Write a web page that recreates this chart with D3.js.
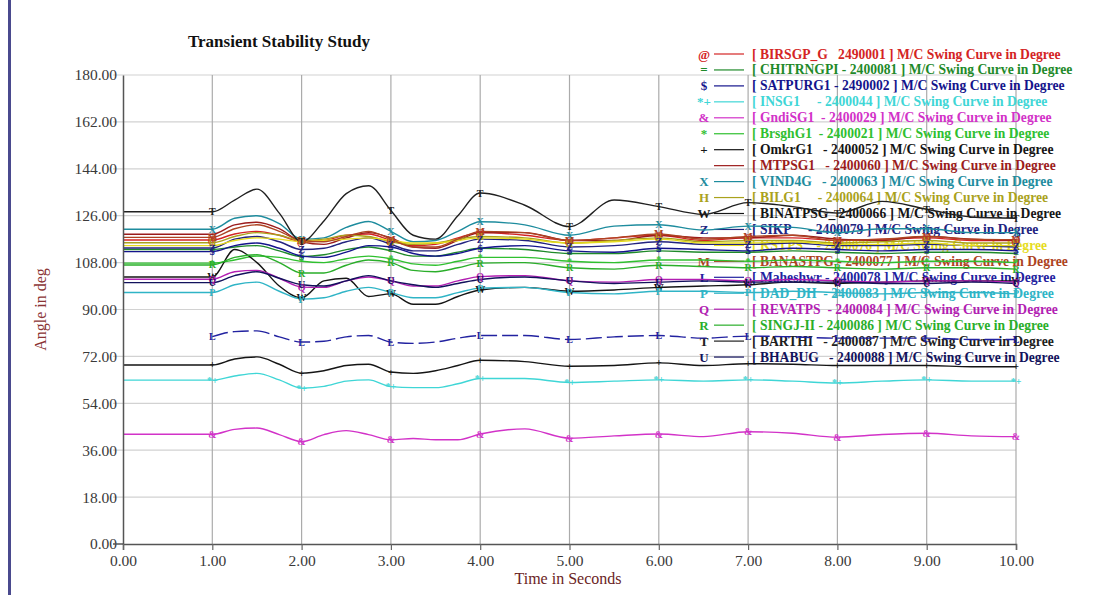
<!DOCTYPE html>
<html><head><meta charset="utf-8">
<script src="https://cdn.jsdelivr.net/npm/d3@7"></script>
<style>body{margin:0;background:#fff}svg text{font-family:"Liberation Serif","Times New Roman",serif}</style>
</head><body><svg id="c" width="1113" height="595"></svg>
<script>
// ---- data ----
const times = [0,1,1.25,1.5,1.75,2,2.25,2.5,2.75,3,3.25,3.5,3.75,4,4.5,5,5.5,6,6.5,7,7.5,8,8.5,9,9.5,10];
const xTicks = [0,1,2,3,4,5,6,7,8,9,10];
const yTicks = [0,18,36,54,72,90,108,126,144,162,180];
const markerTimes = [1,2,3,4,5,6,7,8,9,10];

const seriesNames = [
  "[ BIRSGP_G   2490001 ] M/C Swing Curve in Degree",
  "[ CHITRNGPI - 2400081 ] M/C Swing Curve in Degree",
  "[ SATPURG1 - 2490002 ] M/C Swing Curve in Degree",
  "[ INSG1     - 2400044 ] M/C Swing Curve in Degree",
  "[ GndiSG1  - 2400029 ] M/C Swing Curve in Degree",
  "[ BrsghG1  - 2400021 ] M/C Swing Curve in Degree",
  "[ OmkrG1   - 2400052 ] M/C Swing Curve in Degree",
  "[ MTPSG1   - 2400060 ] M/C Swing Curve in Degree",
  "[ VIND4G   - 2400063 ] M/C Swing Curve in Degree",
  "[ BILG1     - 2400064 ] M/C Swing Curve in Degree",
  "[ BINATPSG_ 2400066 ] M/C Swing Curve in Degree",
  "[ SIKP     - 2400079 ] M/C Swing Curve in Degree",
  "[ KSTPS    - 2400076 ] M/C Swing Curve in Degree",
  "[ BANASTPG - 2400077 ] M/C Swing Curve in Degree",
  "[ Maheshwr - 2400078 ] M/C Swing Curve in Degree",
  "[ DAD_DH  - 2400083 ] M/C Swing Curve in Degree",
  "[ REVATPS  - 2400084 ] M/C Swing Curve in Degree",
  "[ SINGJ-II - 2400086 ] M/C Swing Curve in Degree",
  "[ BARTHI   - 2400087 ] M/C Swing Curve in Degree",
  "[ BHABUG   - 2400088 ] M/C Swing Curve in Degree"
];
const seriesSymbols = ["@","=","$","*+","&","*","+","","X","H","W","Z","","M","L","P","Q","R","T","U"];

const vBIRSGP   = [116.7,116.7,119,120,118.5,116,116.5,118.5,119,116.5,114.5,115,117.5,119.5,118.5,116.5,117.5,118.5,116.5,117.5,117.5,116.5,117,117.5,116.5,116.5];
const vCHITRNG  = [113,113,114,114.5,112.5,110.3,111,113,114,112.5,110.5,110.5,112,113.5,113,111.5,111.5,112.5,112,112,112.5,112,111.5,112,112,111.5];
const vSATPUR   = [112.2,112.2,114.5,115.5,113.5,110.5,110,112,114.5,114,111.5,110.5,111.5,113.5,114.5,112.5,112,113.5,113,112.5,113.5,113,112.5,113,113,112.5];
const vINSG1    = [62.9,62.9,64.5,65.5,63,59.8,60.5,62.5,63,60.4,60,60,61.5,63.5,63.5,62,62.5,63,62.5,63,62.5,61.8,62.5,63,62.5,62.5];
const vGNDISG   = [42.1,42.1,44,44.5,42,39.3,42,43.5,42,40,40.5,40,40,42.2,44.2,40.6,41.5,42.2,41.2,43.1,42.5,41,42,42.5,41.5,41.2];
const vBRSGH    = [107.8,107.8,109,110.5,110,108.5,108,109.5,110.5,109.5,107.5,107,108.5,110,110,108.5,108,109,109,108.5,109,108.5,108,108.5,108.5,108];
const vOMKR     = [68.7,68.7,71,71.8,69,65.6,66.5,68.5,69,66,65.5,66.5,68.5,70.5,70,68.2,68.5,69.5,68.5,69.2,69,68.5,68.5,68.5,68,68];
const vMTPS     = [118.9,118.9,122.5,123.5,121,116,115,117.5,119.5,117.5,114,113.5,116.5,119.5,119.5,116.5,116.5,118.5,117.5,117.5,118.5,117,116.5,118,117,116.5];
const vVIND4    = [120.8,120.8,125,126,123,117,117.5,121.5,123.8,120,116,116.5,120,123.7,122.5,118.5,122,122.5,120.5,122,121.5,119.5,121,121,119.5,119.5];
const vBILG     = [115.6,115.6,118,119.5,118.5,116.5,117,118.5,118,116,115,115.5,117,118,117.5,115.5,116.5,117.5,116,116.5,116.5,115.5,116,116.5,115.5,115.5];
const vBINAT    = [102.5,102.5,113,108,99,94.5,101,102,95,96,92,92,95,97.5,98.5,97,97.5,98.5,99,99.5,100.5,100,100.5,101,101,101];
const vSIKP     = [113.6,113.6,117,118,116,113,113.5,116,117.5,115,112.5,112.5,115,117,116.5,114,114.5,116,115,115,115.5,114.5,114.5,115,114.5,114];
const vKSTPS    = [114.5,114.5,116.5,117.5,117,116,116.5,117,117.5,116.5,115.5,115.5,116.5,117.5,117,115.5,116,117,115.5,115.5,116,115,115,115.5,114.5,114.5];
const vBANAS    = [117.7,117.7,121,122.5,120,116.5,116,118,120,117,114,114,117,120,119.5,116.5,117.5,119,117,118,118.5,116.5,117,118,117,116.8];
const vMAHESH   = [null,79.6,81.5,81.8,79.5,77.5,77.8,79.5,80,77.5,77,77.5,79,80,80,78.5,79.5,80,79,79.8,79.5,79,79,79,78.5,78.5];
const vDADDH    = [96.5,96.5,99.5,100.5,97,94,94.5,97,98.5,96.5,94.5,94.5,96.5,98.2,98.5,96.5,96,97,97,96.5,97,96.5,96,96.5,96.5,96];
const vREVA     = [101.6,101.6,104.5,105,102,98.6,98.5,101,102.5,101,99,99,101,102.6,103,101,100.5,101.5,101.5,101,101.5,101,100.5,101,101,100.5];
const vSINGJ    = [107.1,107.1,110,111,108,104,104,107,109,108,105,104.5,106,107.8,108,106,105.5,107,106.5,106,106.5,106,105.5,106,106,105.5];
const vBARTHI   = [127.5,127.5,132,136.2,127,116,124,134.5,137.5,128,118.5,117,126,134.7,130,121.8,132,129.5,126.5,131,129.5,127,131.5,128.5,125.5,125];
const vBHABUG   = [100.3,100.3,103,104.5,102,99.5,99,101,103,101,99.5,98.5,100,101.5,102.5,101,100,100.5,101,100.5,100.5,100.5,100,100,100.5,100];

const seriesValues = [vBIRSGP,vCHITRNG,vSATPUR,vINSG1,vGNDISG,vBRSGH,vOMKR,vMTPS,vVIND4,vBILG,
                      vBINAT,vSIKP,vKSTPS,vBANAS,vMAHESH,vDADDH,vREVA,vSINGJ,vBARTHI,vBHABUG];

// ---- styles ----
const seriesColors = ["#d42424","#1f8a2a","#14148c","#3fd6d6","#d232c8","#2fc02f","#151515","#9c1c1c","#1e8c9e","#aaa21c",
                      "#151515","#23237f","#e6dc1e","#ad4322","#2222a0","#2fb4c6","#b21eb2","#2aae2a","#202020","#12125c"];
const seriesDash = seriesSymbols.map((s,i)=> i===14 ? "16,5" : null);

const svg = d3.select("#c");
const x = d3.scaleLinear().domain([0,10]).range([123,1016]);
const y = d3.scaleLinear().domain([0,180]).range([544,75]);

// frame
svg.append("rect").attr("x",8).attr("y",0).attr("width",3).attr("height",595).attr("fill","#4a4a8e");

// grid
svg.append("g").selectAll("line").data(yTicks.filter(d=>d>0)).join("line")
  .attr("x1",113).attr("x2",x(10)).attr("y1",d=>y(d)).attr("y2",d=>y(d))
  .attr("stroke","#d2d2d2").attr("stroke-width",1.2);
svg.append("g").selectAll("line").data(xTicks.filter(d=>d>0)).join("line")
  .attr("x1",d=>x(d)).attr("x2",d=>x(d)).attr("y1",y(180)).attr("y2",y(0))
  .attr("stroke","#ababab").attr("stroke-width",1.2);

// title
svg.append("text").attr("x",188).attr("y",47).text("Transient Stability Study")
  .attr("font-size",17).attr("font-weight","bold").attr("fill","#111");

// legend
const lg = svg.append("g");
seriesNames.forEach((n,i)=>{
  const cy = 54 + 15.95*i;
  const c = seriesColors[i];
  lg.append("text").attr("x",704).attr("y",cy+4.5).attr("text-anchor","middle")
    .attr("font-size",13).attr("font-weight","bold").attr("fill",c).text(seriesSymbols[i]);
  lg.append("line").attr("x1",714).attr("x2",744).attr("y1",cy).attr("y2",cy)
    .attr("stroke",c).attr("stroke-width",1.2);
  lg.append("text").attr("x",752).attr("y",cy+4.5).attr("font-size",13.6).attr("font-weight","bold")
    .attr("fill",c).style("white-space","pre").text(n);
});

// lines
const line = d3.line().defined(d=>d[1]!=null).x(d=>x(d[0])).y(d=>y(d[1])).curve(d3.curveMonotoneX);
const lineG = svg.append("g");
seriesValues.forEach((vals,i)=>{
  lineG.append("path").datum(times.map((t,k)=>[t,vals[k]]))
    .attr("d",line).attr("fill","none").attr("stroke",seriesColors[i])
    .attr("stroke-width",1.4).attr("stroke-dasharray",seriesDash[i]);
});

// markers
const mk = svg.append("g");
seriesValues.forEach((vals,i)=>{
  if(!seriesSymbols[i]) return;
  markerTimes.forEach(t=>{
    const v = vals[times.indexOf(t)];
    if(v==null) return;
    mk.append("text").attr("x",x(t)).attr("y",y(v)+3.5).attr("text-anchor","middle")
      .attr("font-size",10).attr("font-weight","bold").attr("fill",seriesColors[i]).text(seriesSymbols[i]);
  });
});

// axes
const fmt = d3.format(".2f");
const yAxis = svg.append("g").attr("transform",`translate(${x(0)},0)`)
  .call(d3.axisLeft(y).tickValues(yTicks).tickFormat(fmt).tickSize(0).tickPadding(6));
const xAxis = svg.append("g").attr("transform",`translate(0,${y(0)})`)
  .call(d3.axisBottom(x).tickValues(xTicks).tickFormat(fmt).tickSize(6).tickPadding(5));
[yAxis,xAxis].forEach(a=>{
  a.selectAll("text").attr("font-size",15.5).attr("fill","#3a3a3a").style("font-family","'Liberation Serif',serif");
  a.select(".domain").attr("stroke","#555").attr("stroke-width",1.5);
  a.selectAll(".tick line").attr("stroke","#666").attr("stroke-width",1.2);
});
svg.append("line").attr("x1",113).attr("x2",x(0)).attr("y1",y(0)).attr("y2",y(0)).attr("stroke","#555").attr("stroke-width",1.5);

// axis titles
svg.append("text").attr("transform",`translate(46,${(y(0)+y(180))/2}) rotate(-90)`)
  .attr("text-anchor","middle").attr("font-size",16).attr("fill","#8a3434").text("Angle in deg");
svg.append("text").attr("x",568).attr("y",584).attr("text-anchor","middle")
  .attr("font-size",16).attr("fill","#6a2424").text("Time in Seconds");
</script></body></html>
